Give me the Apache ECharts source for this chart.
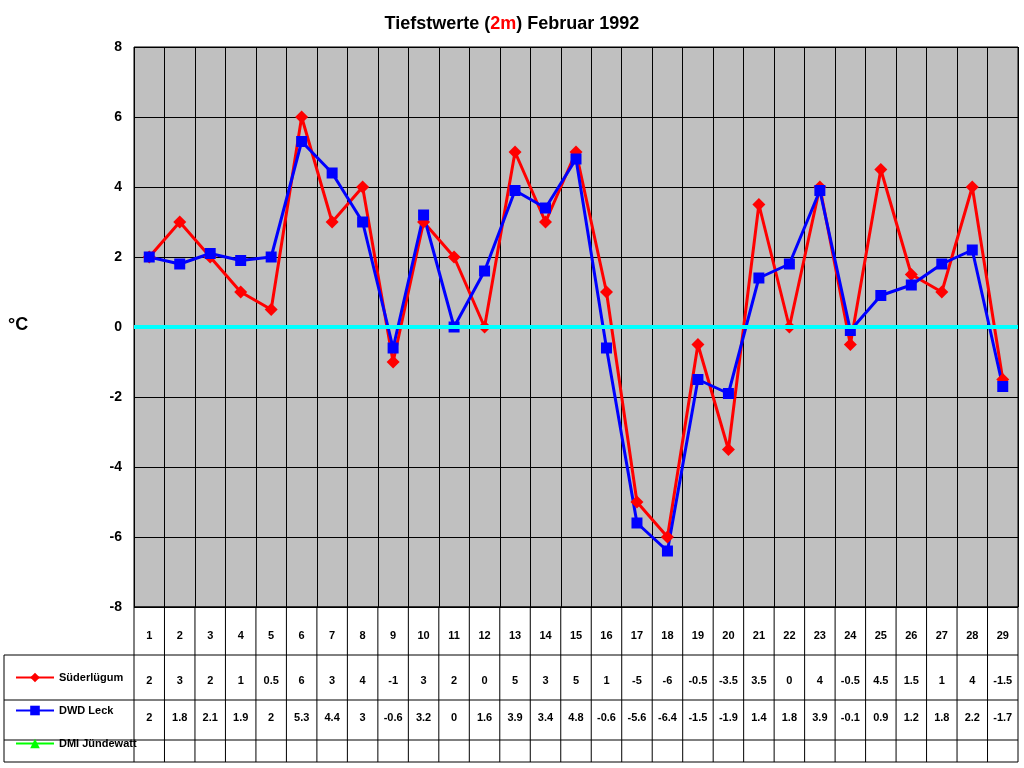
<!DOCTYPE html>
<html>
<head>
<meta charset="UTF-8">
<title>Tiefstwerte Februar 1992</title>
<script src="https://cdn.jsdelivr.net/npm/echarts@6/dist/echarts.min.js"></script>
<style>
  html, body { margin: 0; padding: 0; background: #fff; }
  #main { width: 1024px; height: 768px; }
</style>
</head>
<body>
<div id="main"></div>
<script>
var days = [];
for (var d = 1; d <= 29; d++) days.push(String(d));
var suederluegum = [2, 3, 2, 1, 0.5, 6, 3, 4, -1, 3, 2, 0, 5, 3, 5, 1, -5, -6, -0.5, -3.5, 3.5, 0, 4, -0.5, 4.5, 1.5, 1, 4, -1.5];
var dwdLeck = [2, 1.8, 2.1, 1.9, 2, 5.3, 4.4, 3, -0.6, 3.2, 0, 1.6, 3.9, 3.4, 4.8, -0.6, -5.6, -6.4, -1.5, -1.9, 1.4, 1.8, 3.9, -0.1, 0.9, 1.2, 1.8, 2.2, -1.7];
var dmiJuendewatt = [];

var L = 134, R = 1018, T = 47, B = 607;
var rows = [655, 700, 740, 762];
var cw = (R - L) / days.length;

// table lines
var lines = [];
function ln(x1, y1, x2, y2) {
    lines.push({ type: 'line', silent: true, shape: { x1: x1, y1: y1, x2: x2, y2: y2 }, style: { stroke: '#000', lineWidth: 1 } });
}
for (var i = 0; i <= days.length; i++) ln(L + i * cw, B, L + i * cw, rows[3]);
ln(L, B, R, B);
rows.forEach(function (y) { ln(4, y, R, y); });
ln(4, rows[0], 4, rows[3]);

var lbl = { fontFamily: 'Arial', fontWeight: 'bold', fontSize: 11, color: '#000' };
function tableAxis(data, offset) {
    return {
        type: 'category', data: data, position: 'bottom', offset: offset, gridIndex: 0,
        axisLine: { show: false }, axisTick: { show: false }, splitLine: { show: false },
        axisLabel: Object.assign({ interval: 0, margin: 0 }, lbl)
    };
}

var chart = echarts.init(document.getElementById('main'));
chart.setOption({
    animation: false,
    title: {
        text: 'Tiefstwerte ({r|2m}) Februar 1992',
        left: 'center', top: 10,
        textStyle: {
            fontFamily: 'Arial', fontWeight: 'bold', fontSize: 18, color: '#000',
            rich: { r: { fontFamily: 'Arial', fontWeight: 'bold', fontSize: 18, color: '#ff0000', textDecoration: 'underline' } }
        }
    },
    legend: {
        orient: 'vertical', left: 10, top: 667, itemGap: 22, itemWidth: 38, itemHeight: 12,
        textStyle: lbl,
        data: ['Süderlügum', 'DWD Leck', 'DMI Jündewatt']
    },
    grid: { left: L, right: 1024 - R, top: T, bottom: 768 - B, show: true, backgroundColor: '#c0c0c0', borderColor: '#000', borderWidth: 1 },
    xAxis: [
        {
            type: 'category', data: days, boundaryGap: true,
            axisLine: { show: false }, axisTick: { show: false },
            splitLine: { show: true, interval: 0, lineStyle: { color: '#000', width: 1 } },
            axisLabel: Object.assign({ interval: 0, margin: 23 }, lbl)
        },
        tableAxis(suederluegum.map(String), 68),
        tableAxis(dwdLeck.map(String), 105)
    ],
    yAxis: {
        type: 'value', min: -8, max: 8, interval: 2,
        axisLine: { show: false }, axisTick: { show: false },
        splitLine: { lineStyle: { color: '#000', width: 1 } },
        axisLabel: { fontFamily: 'Arial', fontWeight: 'bold', fontSize: 14, color: '#000', margin: 12 }
    },
    graphic: lines.concat([{
        type: 'text', left: 8, top: 316,
        style: { text: '°C', font: 'bold 18px Arial', fill: '#000' }
    }]),
    series: [
        {
            name: 'Süderlügum', type: 'line', data: suederluegum,
            symbol: 'diamond', symbolSize: 13, color: '#ff0000',
            lineStyle: { width: 3, color: '#ff0000' }, itemStyle: { color: '#ff0000' },
            markLine: {
                silent: true, symbol: 'none', label: { show: false },
                lineStyle: { color: '#00ffff', width: 4, type: 'solid' },
                data: [{ yAxis: 0 }]
            }
        },
        {
            name: 'DWD Leck', type: 'line', data: dwdLeck,
            symbol: 'rect', symbolSize: 11, color: '#0000ff',
            lineStyle: { width: 3, color: '#0000ff' }, itemStyle: { color: '#0000ff' }
        },
        {
            name: 'DMI Jündewatt', type: 'line', data: dmiJuendewatt,
            symbol: 'triangle', symbolSize: 12, color: '#00ff00',
            lineStyle: { width: 3, color: '#00ff00' }, itemStyle: { color: '#00ff00' }
        }
    ]
});
</script>
</body>
</html>
